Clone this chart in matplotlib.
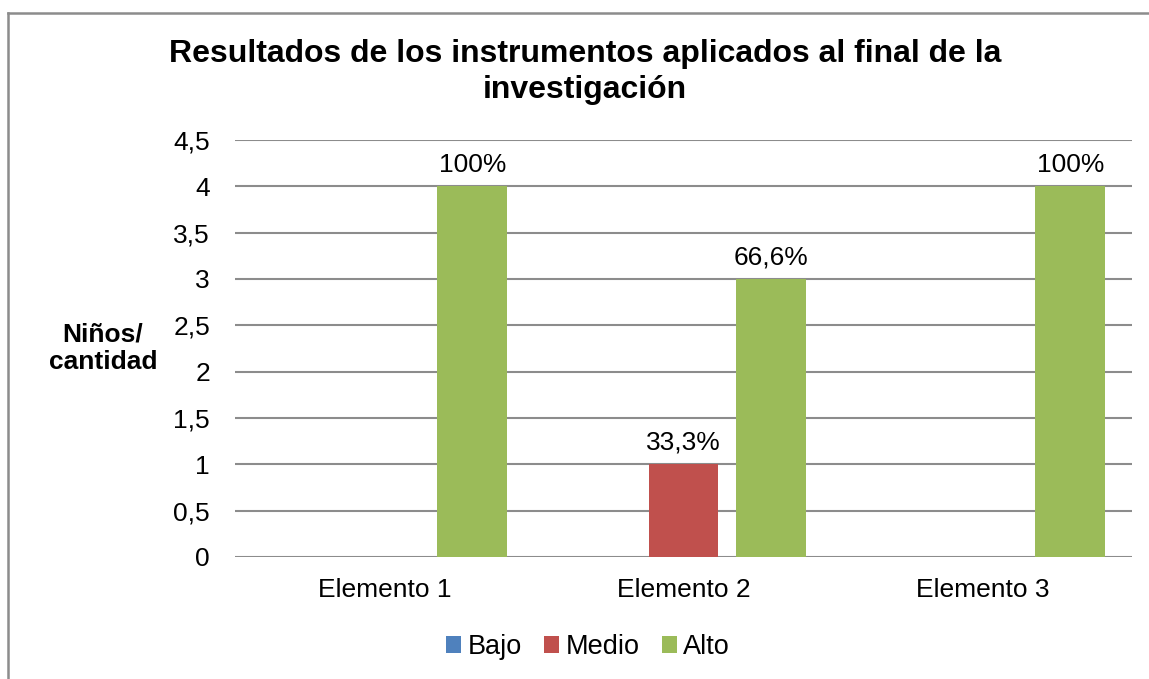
import numpy as np
import matplotlib.pyplot as plt
from matplotlib.lines import Line2D

plt.rcParams['font.family'] = ['Liberation Sans', 'DejaVu Sans']

categories = ['Elemento 1', 'Elemento 2', 'Elemento 3']
series_names = ['Bajo', 'Medio', 'Alto']
bajo = [0, 0, 0]
medio = [0, 1, 0]
alto = [4, 3, 4]
medio_labels = ['', '33,3%', '']
alto_labels = ['100%', '66,6%', '100%']
colors = ['#4F81BD', '#C0504D', '#9BBB59']

fig = plt.figure(figsize=(11.49, 6.79), dpi=100)
W, H = 1149, 679
ax = fig.add_axes([235 / W, 1 - 557 / H, (1132 - 235) / W, (557 - 140) / H])

# figure border (left and top edges visible; the rest is cut off)
fig.lines.append(Line2D([7.5 / W, 7.5 / W], [0, 1 - 12.5 / H], transform=fig.transFigure,
                        color='#8c8c8c', linewidth=1.8))
fig.lines.append(Line2D([7.5 / W, 1], [1 - 12.5 / H, 1 - 12.5 / H], transform=fig.transFigure,
                        color='#8c8c8c', linewidth=1.8))

x = np.arange(len(categories))
bw = 0.234
off = 0.294
series = [bajo, medio, alto]
bars = []
for i, (vals, col, name) in enumerate(zip(series, colors, series_names)):
    b = ax.bar(x + (i - 1) * off, vals, bw, color=col, label=name, zorder=3)
    bars.append(b)

ax.bar_label(bars[1], labels=medio_labels, padding=7, fontsize=19)
ax.bar_label(bars[2], labels=alto_labels, padding=7, fontsize=19)

ax.set_xlim(-0.5, 2.5)
ax.set_ylim(0, 4.5)
yt = np.arange(0, 4.51, 0.5)
ax.set_yticks(yt)
ax.set_yticklabels([('%g' % v).replace('.', ',') for v in yt], fontsize=19)
ax.set_xticks(x)
ax.set_xticklabels(categories, fontsize=19)
ax.tick_params(axis='y', length=0, pad=18)
ax.tick_params(axis='x', length=0, pad=15)
ax.grid(axis='y', color='#8c8c8c', linewidth=1.5, zorder=0)
for s in ax.spines.values():
    s.set_visible(False)

fig.text(585 / W, 1 - 72 / H,
         'Resultados de los instrumentos aplicados al final de la\ninvestigación',
         ha='center', va='center', fontsize=23, fontweight='bold', linespacing=1.25)
fig.text(103 / W, 1 - 348 / H, 'Niños/\ncantidad', ha='center', va='center',
         fontsize=19, fontweight='bold', linespacing=1.2)

fig.legend(loc='center', bbox_to_anchor=(588 / W, 1 - 647 / H), ncol=3,
           frameon=False, fontsize=19.5, handlelength=0.55, handleheight=0.55,
           handletextpad=0.23, columnspacing=0.83)

plt.savefig('out.png', dpi=100)
